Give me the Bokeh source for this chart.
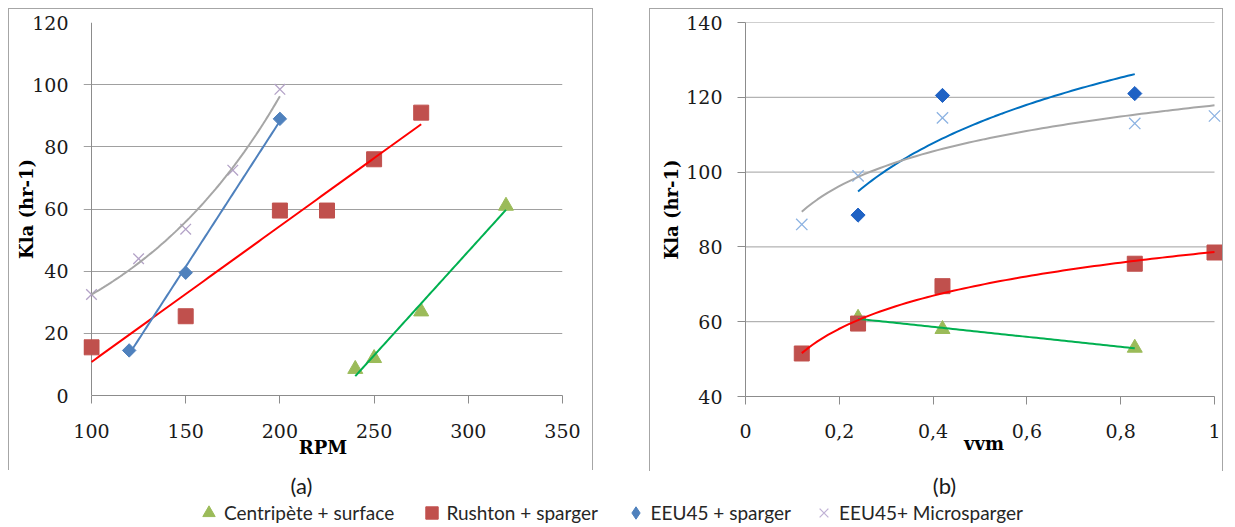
import numpy as np
from bokeh.plotting import figure
from bokeh.models import (Range1d, FixedTicker, CustomJSTickFormatter, Legend,
                          LegendItem, Spacer, Span)
from bokeh.layouts import row, column
from bokeh.core.properties import value
from bokeh.embed import file_html
from bokeh.resources import INLINE

# ---------------- data ----------------
# Panel (a): Kla vs RPM
a_centripete_rpm = [240, 250, 275, 320]
a_centripete_kla = [8.5, 12, 27, 61]
a_rushton_rpm = [100, 150, 200, 225, 250, 275]
a_rushton_kla = [15.5, 25.5, 59.5, 59.5, 76, 91]
a_sparger_rpm = [120, 150, 200]
a_sparger_kla = [14.5, 39.5, 89]
a_micro_rpm = [100, 125, 150, 175, 200]
a_micro_kla = [32.5, 44, 53.5, 72.5, 98.5]

# Panel (b): Kla vs vvm
b_centripete_vvm = [0.24, 0.42, 0.83]
b_centripete_kla = [61, 58, 53]
b_rushton_vvm = [0.12, 0.24, 0.42, 0.83, 1.0]
b_rushton_kla = [51.5, 59.5, 69.5, 75.5, 78.5]
b_sparger_vvm = [0.24, 0.42, 0.83]
b_sparger_kla = [88.5, 120.5, 121]
b_micro_vvm = [0.12, 0.24, 0.42, 0.83, 1.0]
b_micro_kla = [86, 99, 114.5, 113, 115]

a_x_ticks = [100, 150, 200, 250, 300, 350]
a_y_ticks = [0, 20, 40, 60, 80, 100, 120]
b_x_ticks = [0, 0.2, 0.4, 0.6, 0.8, 1.0]
b_y_ticks = [40, 60, 80, 100, 120, 140]

series_labels = ["Centripète + surface", "Rushton + sparger",
                 "EEU45 + sparger", "EEU45+ Microsparger"]
panel_labels = ["(a)", "(b)"]

# ---------------- trend lines (fitted from the data) ----------------
def linear_fit(x, y):
    k, b = np.polyfit(x, y, 1)
    xs = np.linspace(min(x), max(x), 80)
    return xs, k * xs + b

def exp_fit(x, y):
    k, b = np.polyfit(x, np.log(y), 1)
    xs = np.linspace(min(x), max(x), 80)
    return xs, np.exp(b + k * xs)

def log_fit(x, y):
    k, b = np.polyfit(np.log(x), y, 1)
    xs = np.linspace(min(x), max(x), 80)
    return xs, k * np.log(xs) + b

# ---------------- styles ----------------
GREEN_M = "#9bbb59"
RED_M = "#c0504d"
BLUE_M_A = "#4f81bd"
BLUE_M_B = "#1f62c4"
X_A = "#b3a2c7"
X_B = "#8db3e2"
GREEN_L = "#00b050"
RED_L = "#ff0000"
BLUE_L_A = "#4f81bd"
BLUE_L_B = "#0070c0"
GRAY_L = "#a6a6a6"
GRID = "#a0a0a0"
AXIS = "#8c8c8c"

PANEL_BORDER = {"border-top": "1px solid #a6a6a6",
                "border-left": "1px solid #a6a6a6",
                "border-right": "1px solid #a6a6a6"}

PAD = 8  # px of room so that edge markers are not clipped
FIG_H_A = 462
FIG_H_B = 463


def style(p, xticks, yticks, ylab_standoff, xlab_standoff, xlabel_standoff=20):
    p.xgrid.visible = False
    p.outline_line_color = None
    p.xaxis.ticker = FixedTicker(ticks=xticks)
    p.yaxis.ticker = FixedTicker(ticks=yticks)
    for ax in (p.xaxis[0], p.yaxis[0]):
        ax.axis_line_color = AXIS
        ax.major_tick_line_color = AXIS
        ax.major_tick_out = 8
        ax.major_tick_in = 0
        ax.minor_tick_line_color = None
        ax.major_label_text_font = "DejaVu Serif"
        ax.major_label_text_font_size = "19px"
        ax.major_label_text_color = "#1a1a1a"
        ax.axis_label_text_font = "DejaVu Serif"
        ax.axis_label_text_font_style = "bold"
        ax.axis_label_text_font_size = "18px"
        ax.axis_label_text_color = "#000000"
    p.yaxis[0].major_label_standoff = 15
    p.xaxis[0].major_label_standoff = xlabel_standoff
    p.yaxis[0].axis_label_standoff = ylab_standoff
    p.xaxis[0].axis_label_standoff = xlab_standoff
    p.xaxis[0].bounds = (xticks[0], xticks[-1])


# ---------------- panel (a) ----------------
a_frame_w = 479
a_x_start = a_x_ticks[0] - PAD * (a_x_ticks[-1] - a_x_ticks[0]) / (a_frame_w - PAD)
pa = figure(width=585, height=FIG_H_A, x_range=Range1d(a_x_start, a_x_ticks[-1]),
            y_range=Range1d(a_y_ticks[0], a_y_ticks[-1]),
            output_backend="svg", toolbar_location=None,
            min_border_left=74, min_border_right=32, min_border_top=13,
            min_border_bottom=FIG_H_A - 386,
            x_axis_label="RPM", y_axis_label="Kla (hr-1)", styles=PANEL_BORDER)
style(pa, a_x_ticks, a_y_ticks, -8, -4)
# y axis line drawn at the first x tick; the frame-edge axis only carries the labels
ya = pa.yaxis[0]
ya.axis_line_color = None
ya.major_tick_line_color = None
ya.major_tick_out = 0
ya.major_label_standoff = 15
pa.ygrid.grid_line_color = GRID
pa.add_layout(Span(location=a_x_ticks[0], dimension="height", line_color=AXIS,
                   line_width=1, level="underlay"))

pa.scatter(a_centripete_rpm, a_centripete_kla, marker="triangle", size=15,
           fill_color=GREEN_M, line_color=GREEN_M)
pa.scatter(a_rushton_rpm, a_rushton_kla, marker="square", size=15,
           fill_color=RED_M, line_color=RED_M)
pa.scatter(a_sparger_rpm, a_sparger_kla, marker="square", size=9.5, angle=np.pi / 4,
           fill_color=BLUE_M_A, line_color=BLUE_M_A)
pa.scatter(a_micro_rpm, a_micro_kla, marker="x", size=15, line_color=X_A, line_width=1.3)

xs, ys = linear_fit(a_centripete_rpm, a_centripete_kla)
pa.line(xs, ys, line_color=GREEN_L, line_width=2)
xs, ys = linear_fit(a_rushton_rpm, a_rushton_kla)
pa.line(xs, ys, line_color=RED_L, line_width=2)
xs, ys = linear_fit(a_sparger_rpm, a_sparger_kla)
pa.line(xs, ys, line_color=BLUE_L_A, line_width=2)
xs, ys = exp_fit(a_micro_rpm, a_micro_kla)
pa.line(xs, ys, line_color=GRAY_L, line_width=2)

# ---------------- panel (b) ----------------
b_frame_w = 477
b_x_end = b_x_ticks[-1] + PAD * (b_x_ticks[-1] - b_x_ticks[0]) / (b_frame_w - PAD)
pb = figure(width=574, height=FIG_H_B, x_range=Range1d(b_x_ticks[0], b_x_end),
            y_range=Range1d(b_y_ticks[0], b_y_ticks[-1]),
            output_backend="svg", toolbar_location=None,
            min_border_left=95, min_border_right=2, min_border_top=13,
            min_border_bottom=FIG_H_B - 390,
            x_axis_label="vvm", y_axis_label="Kla (hr-1)", styles=PANEL_BORDER)
style(pb, b_x_ticks, b_y_ticks, 1, -8, xlabel_standoff=19)
pb.ygrid.visible = False
pb.xaxis[0].formatter = CustomJSTickFormatter(
    code="return String(Math.round(tick * 10) / 10).replace('.', ',');")
# horizontal grid lines limited to the axis extent
pb.segment(x0=[b_x_ticks[0]] * len(b_y_ticks), x1=[b_x_ticks[-1]] * len(b_y_ticks),
           y0=b_y_ticks, y1=b_y_ticks, line_color=GRID, line_width=1, level="underlay")

pb.scatter(b_centripete_vvm, b_centripete_kla, marker="triangle", size=15,
           fill_color=GREEN_M, line_color=GREEN_M)
pb.scatter(b_rushton_vvm, b_rushton_kla, marker="square", size=15,
           fill_color=RED_M, line_color=RED_M)
pb.scatter(b_sparger_vvm, b_sparger_kla, marker="square", size=10, angle=np.pi / 4,
           fill_color=BLUE_M_B, line_color=BLUE_M_B)
pb.scatter(b_micro_vvm, b_micro_kla, marker="x", size=16, line_color=X_B, line_width=1.3)

xs, ys = linear_fit(b_centripete_vvm, b_centripete_kla)
pb.line(xs, ys, line_color=GREEN_L, line_width=2)
xs, ys = log_fit(b_rushton_vvm, b_rushton_kla)
pb.line(xs, ys, line_color=RED_L, line_width=2)
xs, ys = log_fit(b_sparger_vvm, b_sparger_kla)
pb.line(xs, ys, line_color=BLUE_L_B, line_width=2)
xs, ys = log_fit(b_micro_vvm, b_micro_kla)
pb.line(xs, ys, line_color=GRAY_L, line_width=2)

# ---------------- bottom strip: panel captions + legend ----------------
STRIP_W, STRIP_H = 1219, 526 - (9 + max(FIG_H_A, FIG_H_B))
ps = figure(width=STRIP_W, height=STRIP_H, x_range=Range1d(0, STRIP_W),
            y_range=Range1d(0, STRIP_H),
            output_backend="svg", toolbar_location=None, min_border=0,
            x_axis_type=None, y_axis_type=None)
ps.grid.visible = False
ps.outline_line_color = None

ps.text(x=[293, 936], y=[40, 40], text=panel_labels, text_font=value("Lato"),
        text_font_size="22px", text_align="center", text_baseline="middle",
        text_color="#1a1a1a")

legend_markers = [
    dict(marker="triangle", fill_color=GREEN_M, line_color=GREEN_M),
    dict(marker="square", fill_color=RED_M, line_color=RED_M),
    dict(marker="diamond", fill_color=BLUE_M_A, line_color=BLUE_M_A),
    dict(marker="x", fill_color=None, line_color="#c0b2d6", line_width=1.3),
]
GLYPH_BOX = 31
legend_glyph_cx = [200.5, 423, 627, 815.5]
for lab, mk, cx in zip(series_labels, legend_markers, legend_glyph_cx):
    r = ps.scatter(x=np.array([np.nan]), y=np.array([np.nan]), size=13, **mk)
    lg = Legend(items=[LegendItem(label=value(lab), renderers=[r])],
                location=(cx - GLYPH_BOX / 2, 13 - GLYPH_BOX / 2),
                orientation="horizontal",
                glyph_width=GLYPH_BOX, glyph_height=GLYPH_BOX, label_standoff=0,
                padding=0, margin=0, spacing=0,
                border_line_color=None, background_fill_alpha=0,
                label_text_font="Lato", label_text_font_size="19px",
                label_text_color="#262626", label_text_baseline="middle")
    ps.add_layout(lg)

body = column(row(pa, Spacer(width=56, height=10), pb), ps, spacing=0)
layout = column(Spacer(width=10, height=8), row(Spacer(width=8, height=10), body))

open("out.html", "w").write(file_html(layout, INLINE))
